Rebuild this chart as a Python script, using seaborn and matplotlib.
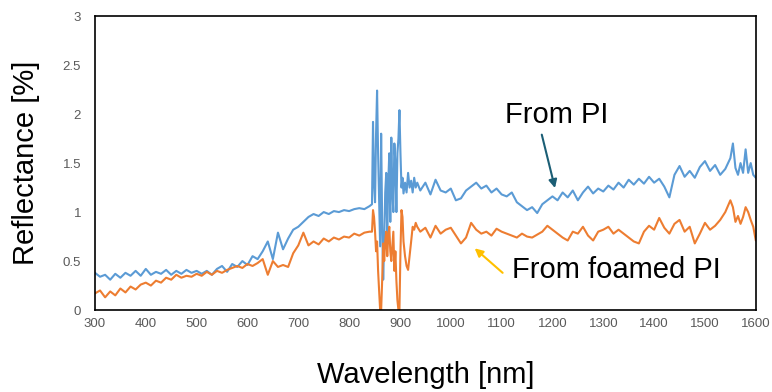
import matplotlib
matplotlib.use("Agg")
import matplotlib.pyplot as plt
import seaborn as sns
import pandas as pd
from matplotlib.ticker import FuncFormatter

# ---- data ----
wavelength = (list(range(300, 850, 10)) + list(range(845, 908, 2)) +
              list(range(910, 935, 3)) + list(range(940, 1551, 10)) +
              list(range(1555, 1601, 5)))

from_pi = [
    0.38, 0.34, 0.36, 0.31, 0.37, 0.33, 0.38, 0.35, 0.40, 0.35,
    0.42, 0.36, 0.39, 0.37, 0.41, 0.36, 0.40, 0.37, 0.41, 0.38,
    0.40, 0.37, 0.40, 0.36, 0.42, 0.45, 0.39, 0.47, 0.44, 0.50,
    0.46, 0.55, 0.52, 0.60, 0.70, 0.52, 0.79, 0.62, 0.73, 0.82,
    0.85, 0.90, 0.95, 0.98, 0.96, 1.00, 0.98, 1.01, 1.00, 1.02,
    1.01, 1.03, 1.04, 1.03, 1.06,
    1.08, 1.92, 1.30, 1.10, 1.80, 2.24, 1.60, 1.10, 0.65, 1.80,
    0.90, 0.31, 0.70, 1.20, 1.40, 0.74, 1.30, 1.60, 0.90, 1.76,
    1.20, 1.00, 1.70, 1.50, 1.00, 1.60, 1.75, 2.04, 1.60, 1.25,
    1.35, 1.19,
    1.30, 1.20, 1.40, 1.25, 1.32, 1.20, 1.35, 1.25, 1.30,
    1.22, 1.30, 1.18, 1.33, 1.22, 1.20, 1.24, 1.12, 1.14, 1.22,
    1.26, 1.30, 1.24, 1.27, 1.20, 1.24, 1.18, 1.16, 1.20, 1.10,
    1.06, 1.02, 1.05, 0.99, 1.08, 1.12, 1.16, 1.12, 1.20, 1.15,
    1.22, 1.12, 1.20, 1.26, 1.19, 1.24, 1.21, 1.27, 1.23, 1.30,
    1.25, 1.33, 1.28, 1.34, 1.29, 1.36, 1.30, 1.34, 1.26, 1.15,
    1.38, 1.47, 1.36, 1.42, 1.35, 1.46, 1.52, 1.42, 1.48, 1.38,
    1.44, 1.55,
    1.70, 1.45, 1.38, 1.50, 1.40, 1.64, 1.40, 1.50, 1.38, 1.35,
]

from_foamed_pi = [
    0.17, 0.20, 0.13, 0.19, 0.15, 0.22, 0.18, 0.24, 0.21, 0.26,
    0.28, 0.25, 0.30, 0.28, 0.33, 0.31, 0.36, 0.33, 0.35, 0.34,
    0.37, 0.35, 0.39, 0.36, 0.40, 0.38, 0.41, 0.43, 0.45, 0.43,
    0.47, 0.45, 0.48, 0.52, 0.36, 0.50, 0.44, 0.46, 0.44, 0.58,
    0.66, 0.79, 0.66, 0.70, 0.67, 0.73, 0.70, 0.74, 0.72, 0.75,
    0.74, 0.78, 0.76, 0.79, 0.80,
    0.80, 1.02, 0.95, 0.80, 0.60, 0.70, 0.40, 0.20, 0.00, 0.00,
    0.30, 0.68, 0.50, 0.70, 0.80, 0.55, 0.75, 0.85, 0.60, 0.50,
    0.65, 0.80, 0.40, 0.60, 0.30, 0.10, 0.00, 0.00, 0.60, 1.02,
    0.95, 0.70,
    0.55, 0.45, 0.41, 0.55, 0.70, 0.85, 0.82, 0.89, 0.85,
    0.80, 0.84, 0.74, 0.86, 0.78, 0.82, 0.84, 0.76, 0.68, 0.74,
    0.89, 0.82, 0.78, 0.80, 0.76, 0.83, 0.80, 0.78, 0.76, 0.74,
    0.78, 0.75, 0.74, 0.77, 0.80, 0.86, 0.82, 0.78, 0.74, 0.71,
    0.80, 0.78, 0.85, 0.76, 0.71, 0.80, 0.82, 0.85, 0.78, 0.82,
    0.78, 0.74, 0.70, 0.68, 0.80, 0.86, 0.82, 0.94, 0.84, 0.78,
    0.88, 0.92, 0.80, 0.85, 0.68, 0.78, 0.89, 0.82, 0.86, 0.92,
    1.00, 1.12,
    1.05, 0.90, 0.96, 0.88, 0.95, 1.05, 1.00, 0.92, 0.85, 0.71,
]

x_ticks = list(range(300, 1601, 100))
y_ticks = [0, 0.5, 1, 1.5, 2, 2.5, 3]

# ---- plot ----
sns.set_style("white")
plt.rcParams['font.family'] = ['Liberation Sans', 'DejaVu Sans']
plt.rcParams['text.color'] = 'black'
plt.rcParams['axes.labelcolor'] = 'black'

fig = plt.figure(figsize=(7.72, 3.92), dpi=100)
ax = fig.add_axes([0.123, 0.209, 0.856, 0.750])

df = pd.DataFrame({"wl": wavelength, "pi": from_pi, "foam": from_foamed_pi})
sns.lineplot(data=df, x="wl", y="pi", color="#5B9BD5", lw=1.5, ax=ax)
sns.lineplot(data=df, x="wl", y="foam", color="#ED7D31", lw=1.5, ax=ax)

ax.set_xlim(300, 1600)
ax.set_ylim(0, 3)
ax.set_xticks(x_ticks)
ax.set_yticks(y_ticks)
ax.yaxis.set_major_formatter(FuncFormatter(lambda v, p: f"{v:g}"))

ax.tick_params(axis='both', direction='in', length=4, width=1, color='black',
               labelsize=9.5, labelcolor='#595959')
ax.tick_params(axis='y', pad=10)
ax.tick_params(axis='x', pad=6)
for s in ax.spines.values():
    s.set_color('black')
    s.set_linewidth(1.2)

ax.set_xlabel("Wavelength [nm]", fontsize=21, labelpad=22)
ax.set_ylabel("Reflectance [%]", fontsize=21, labelpad=16)

ax.text(1208, 1.99, "From PI", fontsize=21, ha='center', va='center')
ax.annotate("", xy=(1205, 1.245), xytext=(1179, 1.79),
            arrowprops=dict(arrowstyle='-|>', color='#1B5E75', lw=1.5,
                            mutation_scale=12, shrinkA=0, shrinkB=0))
ax.text(1326, 0.41, "From foamed PI", fontsize=21, ha='center', va='center')
ax.annotate("", xy=(1047, 0.63), xytext=(1102, 0.38),
            arrowprops=dict(arrowstyle='-|>', color='#FFC000', lw=1.5,
                            mutation_scale=12, shrinkA=0, shrinkB=0))

fig.savefig("out.png", dpi=100)
